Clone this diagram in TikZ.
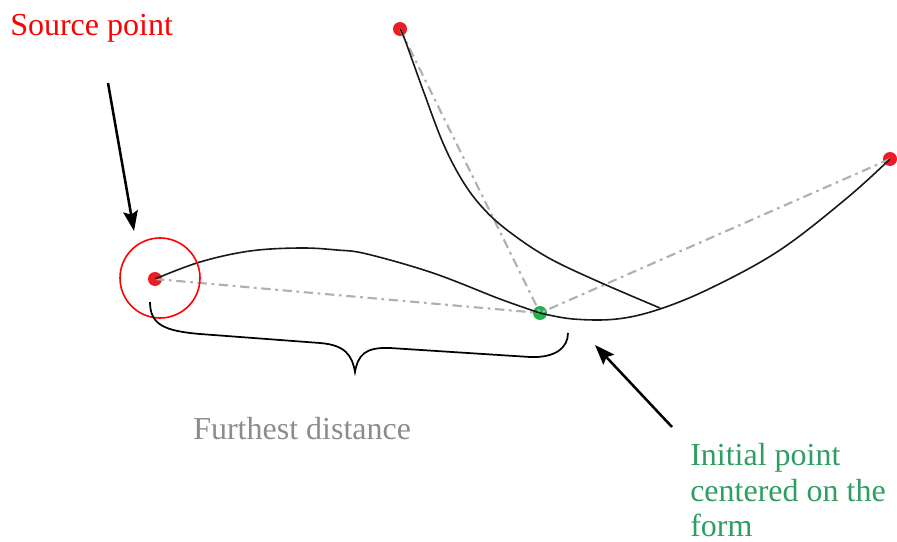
\documentclass[tikz,border=0pt]{standalone}
\usepackage{fontspec}
\setmainfont{Liberation Serif}
\usetikzlibrary{arrows.meta}
\definecolor{dotred}{HTML}{ED1C24}
\definecolor{dotgreen}{HTML}{22B14C}
\definecolor{txtgreen}{HTML}{2F9E62}
\definecolor{txtgray}{HTML}{8C8C8C}
\definecolor{guide}{HTML}{B0B0B0}
\begin{document}
\begin{tikzpicture}[x=0.75pt,y=-0.75pt,
  dotr/.style={circle,fill=dotred,inner sep=0pt,minimum size=10.5pt},
  dotg/.style={circle,fill=dotgreen,inner sep=0pt,minimum size=10.5pt},
  curve/.style={line width=1.2pt,black!90},
  guideline/.style={guide,line width=1.6pt,dash pattern=on 7pt off 3.5pt on 2pt off 3.5pt},
  pointer/.style={line width=1.9pt,-{Stealth[length=15pt,width=11pt,inset=2.5pt]}},
  lbl/.style={font=\fontsize{24}{27}\selectfont,anchor=base west,inner sep=0pt}]
\useasboundingbox (0,0) rectangle (897,542);
% points
\node[dotr] (src) at (155,279) {};
\node[dotr] (top) at (400,29) {};
\node[dotr] (rgt) at (890,159) {};
\node[dotg] (ini) at (540,313) {};
\coordinate (junc) at (660,308);
% guides
\draw[guideline] (src.center) -- (ini.center);
\draw[guideline] (top.center) -- (ini.center);
\draw[guideline] (rgt.center) -- (ini.center);
% curves
\draw[curve] plot[smooth,tension=0.6] coordinates {(155,279) (200,262) (250,251) (300,248) (337,250) (367,254) (433,273) (500,299) (540,313)};
\draw[curve] plot[smooth,tension=0.6] coordinates {(540,313) (573,319) (617,319) (660,309) (713,287) (780,250) (847,198) (890,159)};
\draw[curve] plot[smooth,tension=0.6] coordinates {(400,29) (405,40) (423,90) (443,143) (462,180) (482,207) (507,230) (547,257) (597,281) (660,308)};
% red circle
\node[draw=red,line width=1.2pt,circle,minimum size=60pt,inner sep=0pt] (ring) at (160,278) {};
% brace
\coordinate (bl) at (150,302);
\coordinate (bt) at (355,372);
\coordinate (br) at (568,333);
\draw[line width=1.3pt] (bl) .. controls (150,325) and (165,331) .. (200,334)
  -- (320,343) .. controls (345,345) and (352,355) .. (bt)
  .. controls (358,355) and (365,347) .. (390,348)
  -- (530,357) .. controls (555,358) and (568,348) .. (br);
% arrows
\coordinate (a1s) at (108,83);
\coordinate (a1e) at (134,231);
\draw[pointer] (a1s) -- (a1e);
\coordinate (a2s) at (672,427);
\coordinate (a2e) at (595,345);
\draw[pointer] (a2s) -- (a2e);
% labels
\node[lbl,text=red] (t1) at (10,36) {Source point};
\node[lbl,text=txtgray] (t2) at (193,439) {Furthest distance};
\node[lbl,text=txtgreen] (t3) at (690,465) {Initial point};
\node[lbl,text=txtgreen] (t4) at (690,501) {centered on the};
\node[lbl,text=txtgreen] (t5) at (690,536) {form};
\end{tikzpicture}
\end{document}
